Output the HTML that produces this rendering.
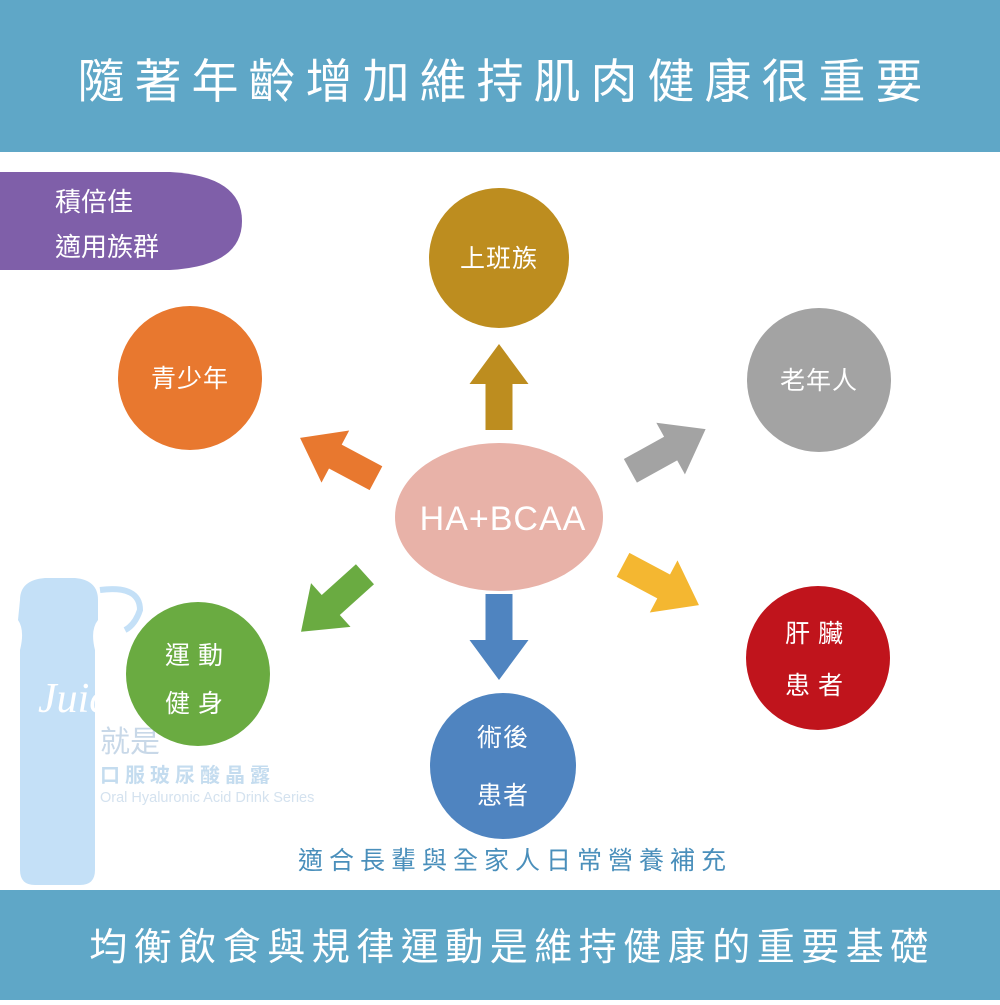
<!DOCTYPE html>
<html><head><meta charset="utf-8"><style>
body{margin:0;width:1000px;height:1000px;overflow:hidden;background:#fff;font-family:"Liberation Sans","Noto Sans CJK TC",sans-serif}
</style></head><body>
<svg width="1000" height="1000" viewBox="0 0 1000 1000" xmlns="http://www.w3.org/2000/svg" style="font-family:'Liberation Sans','Noto Sans CJK TC',sans-serif">
<defs><path id="ar" d="M0,-43 L29.5,-3 L13.5,-3 L13.5,43 L-13.5,43 L-13.5,-3 L-29.5,-3 Z"/></defs>
<rect x="0" y="0" width="1000" height="152" fill="#5fa7c7"/>
<rect x="0" y="890" width="1000" height="110" fill="#5fa7c7"/>
<text x="505" y="98" text-anchor="middle" font-size="47" fill="#fff" letter-spacing="10">隨著年齡增加維持肌肉健康很重要</text>
<text x="512" y="960" text-anchor="middle" font-size="38" fill="#fff" letter-spacing="6.5">均衡飲食與規律運動是維持健康的重要基礎</text>
<!-- watermark -->
<g fill="#c4e0f7">
<path d="M20,600 Q20,580 45,578 L75,578 Q98,580 98,600 L98,620 Q90,630 95,650 L95,870 Q95,885 80,885 L35,885 Q20,885 20,870 L20,650 Q25,630 18,620 Z"/>
<path d="M100,590 Q140,585 140,610 Q135,625 125,630" fill="none" stroke="#c4e0f7" stroke-width="6"/>
</g>
<text x="38" y="712" font-size="42" font-style="italic" font-family="Liberation Serif,serif" fill="#fff">Juice</text>
<text x="100" y="752" font-size="30" fill="#c8d8e8">就是</text>
<text x="100" y="782" font-size="20" font-weight="bold" fill="#c4dcef" letter-spacing="5">口服玻尿酸晶露</text>
<text x="100" y="802" font-size="14.5" fill="#d4e2ef">Oral Hyaluronic Acid Drink Series</text>
<!-- purple -->
<path d="M0,172 L170,172 Q242,176 242,221 Q242,266 170,270 L0,270 Z" fill="#7f5fa9"/>
<text x="55" y="211" font-size="26" fill="#fff">積倍佳</text>
<text x="55" y="256" font-size="26" fill="#fff">適用族群</text>
<!-- arrows -->
<use href="#ar" fill="#bd8d1f" transform="translate(499,387)"/>
<use href="#ar" fill="#e8782f" transform="translate(338,458) rotate(-62)"/>
<use href="#ar" fill="#a3a3a3" transform="translate(668,450) rotate(61)"/>
<use href="#ar" fill="#6aab41" transform="translate(333,603) rotate(-132)"/>
<use href="#ar" fill="#f4b731" transform="translate(661,585) rotate(118)"/>
<use href="#ar" fill="#4f84c0" transform="translate(499,637) rotate(180)"/>
<!-- center -->
<ellipse cx="499" cy="517" rx="104" ry="74" fill="#e8b2a8"/>
<text x="503" y="530" text-anchor="middle" font-size="34" fill="#fff" letter-spacing="1">HA+BCAA</text>
<!-- circles -->
<circle cx="499" cy="258" r="70" fill="#bd8d1f"/>
<text x="499" y="267" text-anchor="middle" font-size="25" fill="#fff" letter-spacing="1">上班族</text>
<circle cx="190" cy="378" r="72" fill="#e8782f"/>
<text x="190" y="387" text-anchor="middle" font-size="25" fill="#fff" letter-spacing="1">青少年</text>
<circle cx="819" cy="380" r="72" fill="#a3a3a3"/>
<text x="819" y="389" text-anchor="middle" font-size="25" fill="#fff" letter-spacing="1">老年人</text>
<circle cx="198" cy="674" r="72" fill="#6aab41"/>
<text x="198" y="664" text-anchor="middle" font-size="25" fill="#fff" letter-spacing="8">運動</text>
<text x="198" y="712" text-anchor="middle" font-size="25" fill="#fff" letter-spacing="8">健身</text>
<circle cx="503" cy="766" r="73" fill="#4f84c0"/>
<text x="503" y="746" text-anchor="middle" font-size="25" fill="#fff" letter-spacing="1">術後</text>
<text x="503" y="804" text-anchor="middle" font-size="25" fill="#fff" letter-spacing="1">患者</text>
<circle cx="818" cy="658" r="72" fill="#c0141c"/>
<text x="818" y="642" text-anchor="middle" font-size="25" fill="#fff" letter-spacing="8">肝臟</text>
<text x="818" y="694" text-anchor="middle" font-size="25" fill="#fff" letter-spacing="8">患者</text>
<text x="515" y="869" text-anchor="middle" font-size="25" fill="#4a8fbb" letter-spacing="6">適合長輩與全家人日常營養補充</text>
</svg>
</body></html>
